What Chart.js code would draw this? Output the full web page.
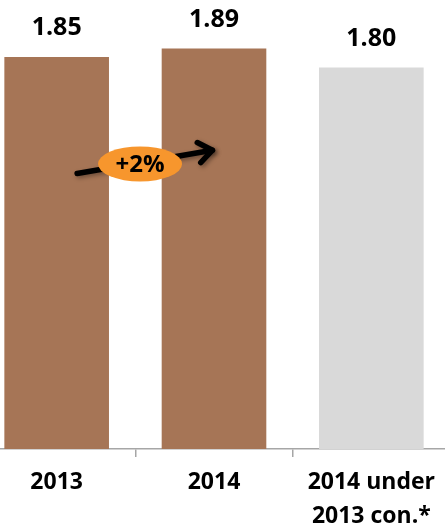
<!DOCTYPE html>
<html>
<head>
<meta charset="utf-8">
<script src="https://cdn.jsdelivr.net/npm/chart.js@4.4.1/dist/chart.umd.min.js"></script>
<style>
    html, body { margin: 0; padding: 0; background: #fff; overflow: hidden; }
    #wrap { position: absolute; left: -22px; top: 0; width: 472px; height: 529px; }
</style>
</head>
<body>
<div id="wrap"><canvas id="growthChart"></canvas></div>
<script>
var categories = ['2013', '2014', ['2014 under', '2013 con.*']];
var values = [1.85, 1.89, 1.80];
var barColors = ['#A67556', '#A67556', '#D9D9D9'];
var changeLabel = '+2%';

// arrow + badge, placed in data units (x = category index, y = value)
var arrowFrom = { x: 0.13, y: 1.30 };
var arrowTo = { x: 0.99, y: 1.41 };
var badgeAt = { x: 0.53, y: 1.345 };

var valueLabels = {
    id: 'valueLabels',
    afterDatasetsDraw: function(chart) {
        var ctx = chart.ctx;
        var meta = chart.getDatasetMeta(0);
        ctx.save();
        ctx.font = 'bold 25px "Open Sans"';
        ctx.fillStyle = '#000';
        ctx.textAlign = 'center';
        ctx.textBaseline = 'middle';
        meta.data.forEach(function(bar, i) {
            ctx.fillText(values[i].toFixed(2), bar.x, bar.y - 29);
        });
        ctx.restore();
    }
};

var growthArrow = {
    id: 'growthArrow',
    afterDatasetsDraw: function(chart) {
        var ctx = chart.ctx;
        var xs = chart.scales.x, ys = chart.scales.y;
        var x1 = xs.getPixelForValue(arrowFrom.x), y1 = ys.getPixelForValue(arrowFrom.y);
        var x2 = xs.getPixelForValue(arrowTo.x), y2 = ys.getPixelForValue(arrowTo.y);
        var ang = Math.atan2(y2 - y1, x2 - x1);
        ctx.save();
        ctx.shadowColor = 'rgba(0,0,0,0.35)';
        ctx.shadowBlur = 4;
        ctx.shadowOffsetX = 2;
        ctx.shadowOffsetY = 2;
        ctx.strokeStyle = '#000';
        ctx.lineWidth = 5.5;
        ctx.lineCap = 'round';
        ctx.lineJoin = 'round';
        ctx.beginPath();
        ctx.moveTo(x1, y1);
        ctx.lineTo(x2, y2);
        ctx.stroke();
        ctx.beginPath();
        ctx.moveTo(x2 + 17 * Math.cos(ang + 2.5), y2 + 17 * Math.sin(ang + 2.5));
        ctx.lineTo(x2, y2);
        ctx.lineTo(x2 + 17 * Math.cos(ang - 2.5), y2 + 17 * Math.sin(ang - 2.5));
        ctx.stroke();
        ctx.restore();

        var bx = xs.getPixelForValue(badgeAt.x), by = ys.getPixelForValue(badgeAt.y);
        ctx.save();
        ctx.fillStyle = '#F7962D';
        ctx.beginPath();
        ctx.ellipse(bx, by, 42, 17.5, 0, 0, Math.PI * 2);
        ctx.fill();
        ctx.fillStyle = '#000';
        ctx.font = 'bold 24px "Open Sans"';
        ctx.textAlign = 'center';
        ctx.textBaseline = 'middle';
        ctx.fillText(changeLabel, bx, by + 1);
        ctx.restore();
    }
};

var ctxGrowth = document.getElementById('growthChart').getContext('2d');
var growthChart = new Chart(ctxGrowth, {
    type: 'bar',
    data: {
        labels: categories,
        datasets: [{
            data: values,
            backgroundColor: barColors,
            borderWidth: 0,
            categoryPercentage: 1,
            barPercentage: 0.665
        }]
    },
    options: {
        responsive: true,
        maintainAspectRatio: false,
        animation: false,
        layout: { padding: { top: 4, left: 0, right: 0, bottom: 0 } },
        plugins: {
            legend: { display: false },
            tooltip: { enabled: false }
        },
        scales: {
            x: {
                grid: {
                    offset: true,
                    drawOnChartArea: false,
                    drawTicks: true,
                    tickLength: 8,
                    color: '#A6A6A6',
                    lineWidth: 1.5
                },
                border: { display: true, color: '#A6A6A6', width: 1.5 },
                ticks: {
                    color: '#000',
                    padding: 8,
                    maxRotation: 0,
                    font: { family: 'Open Sans', size: 23, weight: 'bold', lineHeight: 1.48 }
                },
                afterFit: function(scale) { scale.height = 80; }
            },
            y: {
                display: false,
                min: 0,
                max: 2.1
            }
        }
    },
    plugins: [valueLabels, growthArrow]
});
</script>
</body>
</html>
